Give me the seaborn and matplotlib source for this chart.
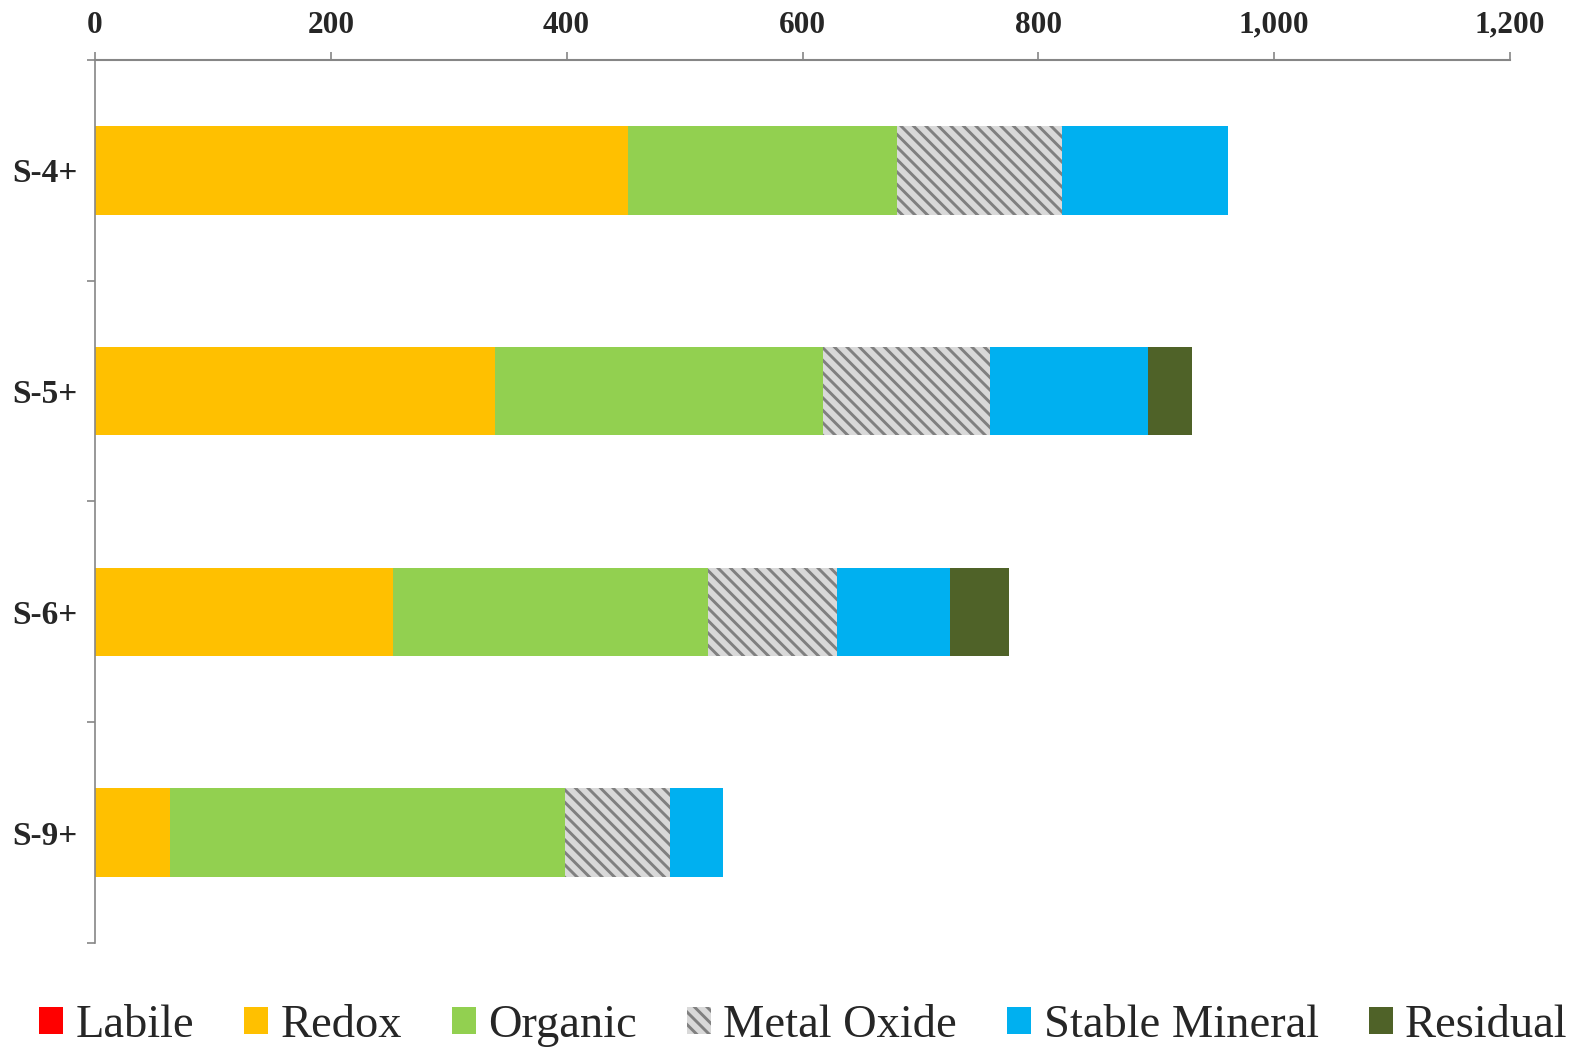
import numpy as np
import pandas as pd
import matplotlib
matplotlib.use("Agg")
import matplotlib.pyplot as plt
from matplotlib.patches import Patch
import seaborn as sns

# Sample sites (top to bottom) and fraction amounts
sites = ["S-4+", "S-5+", "S-6+", "S-9+"]
labile = [0, 0, 0, 0]
redox = [452, 339, 253, 64]
organic = [228, 278, 267, 335]
metal_oxide = [140, 142, 109, 89]
stable_mineral = [141, 134, 96, 45]
residual = [0, 37, 50, 0]

fractions = ["Labile", "Redox", "Organic", "Metal Oxide", "Stable Mineral", "Residual"]
series = [labile, redox, organic, metal_oxide, stable_mineral, residual]
colors = ["#FF0000", "#FFC000", "#92D050", "#D9D9D9", "#00B0F0", "#4F6228"]
hatches = [None, None, None, "\\\\\\\\", None, None]

x_ticks = [0, 200, 400, 600, 800, 1000, 1200]

sns.set_theme(style="white")
plt.rcParams["font.family"] = ["Liberation Serif", "DejaVu Serif"]
plt.rcParams["hatch.linewidth"] = 1.4

df = pd.DataFrame({"site": sites})
for name, vals in zip(fractions, series):
    df[name] = vals
cum = df[fractions].cumsum(axis=1)

DPI = 150
fig = plt.figure(figsize=(1575 / DPI, 1050 / DPI), dpi=DPI)
ax = fig.add_axes([95 / 1575, 1 - 943 / 1050, 1415 / 1575, 883 / 1050])

# Stacked bars: draw cumulative totals from the outermost layer inward
for name, color, hatch in reversed(list(zip(fractions, colors, hatches))):
    kw = dict(linewidth=0)
    if hatch:
        kw.update(hatch=hatch, edgecolor="#808080")
    sns.barplot(data=cum.assign(site=sites), x=name, y="site", order=sites,
                color=color, width=0.4, saturation=1, ax=ax, **kw)

ax.set_xlim(0, 1200)
ax.set_ylim(3.5, -0.5)
ax.set_xlabel("")
ax.set_ylabel("")

ax.xaxis.tick_top()
ax.set_xticks(x_ticks)
ax.set_xticklabels([f"{v:,}" for v in x_ticks], fontsize=15, fontweight="bold")
ax.tick_params(axis="x", which="major", direction="out", length=3.8, width=0.8,
               color="#868686", pad=6, top=True, bottom=False)

ax.set_yticks(range(len(sites)))
ax.set_yticklabels(sites, fontsize=16, fontweight="bold")
ax.set_yticks(np.arange(-0.5, len(sites), 1.0), minor=True)
ax.tick_params(axis="y", which="major", length=0, pad=8.5)
ax.tick_params(axis="y", which="minor", direction="out", length=3.8, width=0.8,
               color="#868686", left=True)

for side in ["right", "bottom"]:
    ax.spines[side].set_visible(False)
ax.spines["top"].set_color("#868686")
ax.spines["top"].set_linewidth(1.0)
ax.spines["left"].set_color("#868686")
ax.spines["left"].set_linewidth(0.8)

handles = []
for name, color, hatch in zip(fractions, colors, hatches):
    if hatch:
        handles.append(Patch(facecolor=color, edgecolor="#808080", hatch=hatch,
                             linewidth=0, label=name))
    else:
        handles.append(Patch(facecolor=color, linewidth=0, label=name))

fig.legend(handles=handles, loc="center", bbox_to_anchor=(0.51, 0.023),
           ncol=6, frameon=False, fontsize=22.3, handlelength=0.52,
           handleheight=0.52, handletextpad=0.26, columnspacing=1.08,
           borderpad=0, borderaxespad=0)

fig.savefig("out.png", dpi=DPI, facecolor="white")
